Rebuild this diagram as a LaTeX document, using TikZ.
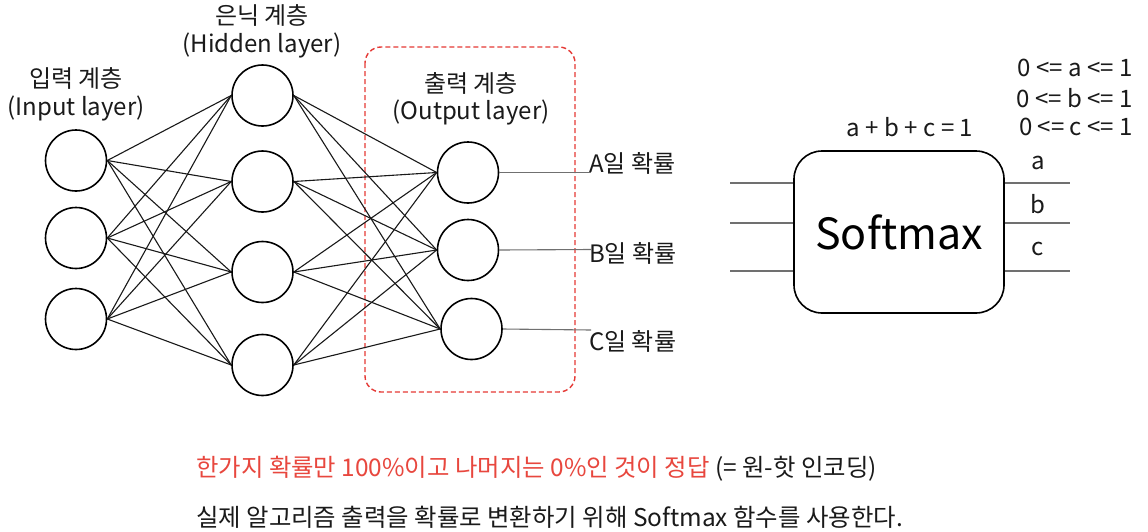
\documentclass[tikz,border=0pt]{standalone}
\usepackage{fontspec}
\setmainfont{Noto Sans CJK KR}
\definecolor{txt}{HTML}{1A1A1A}
\definecolor{redt}{HTML}{E8473E}
\definecolor{redbox}{HTML}{E53935}
\definecolor{wire}{HTML}{707070}
\begin{document}
\begin{tikzpicture}[x=1pt,y=-1pt,
  neuron/.style={circle,draw=black,line width=1.6pt,minimum size=61pt,inner sep=0pt},
  conn/.style={draw=black!90,line width=1.1pt},
  outline/.style={draw=wire,line width=1.1pt},
  lbl/.style={font=\fontsize{24}{28}\selectfont,text=txt,inner sep=0pt},
  small/.style={font=\fontsize{24}{28}\selectfont,text=txt,inner sep=0pt},
  bottom/.style={font=\fontsize{24.4}{28}\selectfont,text=txt,inner sep=0pt,anchor=west}]
\useasboundingbox (0,0) rectangle (1148,531);
\fill[white] (0,0) rectangle (1148,531);
% titles
\node[lbl] (th1) at (262,15) {은닉 계층};
\node[lbl] (th2) at (262,45) {(Hidden layer)};
\node[lbl] (ti1) at (76,78) {입력 계층};
\node[lbl] (ti2) at (76,108) {(Input layer)};
\node[lbl] (to1) at (471,83) {출력 계층};
\node[lbl] (to2) at (471,112) {(Output layer)};
% dashed box
\draw[redbox,line width=1.4pt,rounded corners=16pt,dash pattern=on 5pt off 3pt] (365,47) rectangle (575,392);
% neurons
\node[neuron] (i1) at (76,160.5) {};
\node[neuron] (i2) at (76,238) {};
\node[neuron] (i3) at (76,319) {};
\node[neuron] (h1) at (262.5,95.5) {};
\node[neuron] (h2) at (262.5,181.5) {};
\node[neuron] (h3) at (262.5,272) {};
\node[neuron] (h4) at (262.5,365) {};
\node[neuron] (o1) at (468,172.5) {};
\node[neuron] (o2) at (468,250) {};
\node[neuron] (o3) at (471.5,329) {};
\foreach \i in {1,2,3}{\foreach \h in {1,2,3,4}{\draw[conn] (i\i.east) -- (h\h.west);}}
\foreach \h in {1,2,3,4}{\foreach \o in {1,2,3}{\draw[conn] (h\h.east) -- (o\o.west);}}
% output labels
\node[lbl,anchor=west] (la) at (589,163) {A일 확률};
\node[lbl,anchor=west] (lb) at (589,253) {B일 확률};
\node[lbl,anchor=west] (lc) at (589,341) {C일 확률};
\coordinate (ea) at (591,172.5);
\coordinate (eb) at (591,249.5);
\coordinate (ec) at (591,330);
\draw[outline] (o1.east) -- (ea);
\draw[outline] (o2.east) -- (eb);
\draw[outline] (o3.east) -- (ec);
% softmax
\node[draw=black,line width=1.6pt,rounded corners=28pt,minimum width=210pt,minimum height=162pt,inner sep=0pt,font=\fontsize{43}{48}\selectfont,text=black] (sm) at (899,232) {Softmax};
\coordinate (l1) at (730,183); \coordinate (l2) at (730,223); \coordinate (l3) at (730,271);
\coordinate (r1) at (1070,183); \coordinate (r2) at (1070,223); \coordinate (r3) at (1070,271);
\draw[outline] (l1) -- (l1 -| sm.west);
\draw[outline] (l2) -- (l2 -| sm.west);
\draw[outline] (l3) -- (l3 -| sm.west);
\draw[outline] (r1 -| sm.east) -- (r1);
\draw[outline] (r2 -| sm.east) -- (r2);
\draw[outline] (r3 -| sm.east) -- (r3);
\node[small] (sa) at (1038,163) {a};
\node[small] (sb) at (1038,204) {b};
\node[small] (sc) at (1038,249) {c};
\node[small] (sum) at (910,127) {a + b + c = 1};
\node[small,anchor=east] (ca) at (1133,68) {0 <= a <= 1};
\node[small,anchor=east] (cb) at (1133,98) {0 <= b <= 1};
\node[small,anchor=east] (cc) at (1133,127) {0 <= c <= 1};
% bottom text
\node[bottom] (b1) at (196,469) {\textcolor{redt}{한가지 확률만 100\%이고 나머지는 0\%인 것이 정답} (= 원-핫 인코딩)};
\node[bottom] (b2) at (196,517) {실제 알고리즘 출력을 확률로 변환하기 위해 Softmax 함수를 사용한다.};
\end{tikzpicture}
\end{document}
